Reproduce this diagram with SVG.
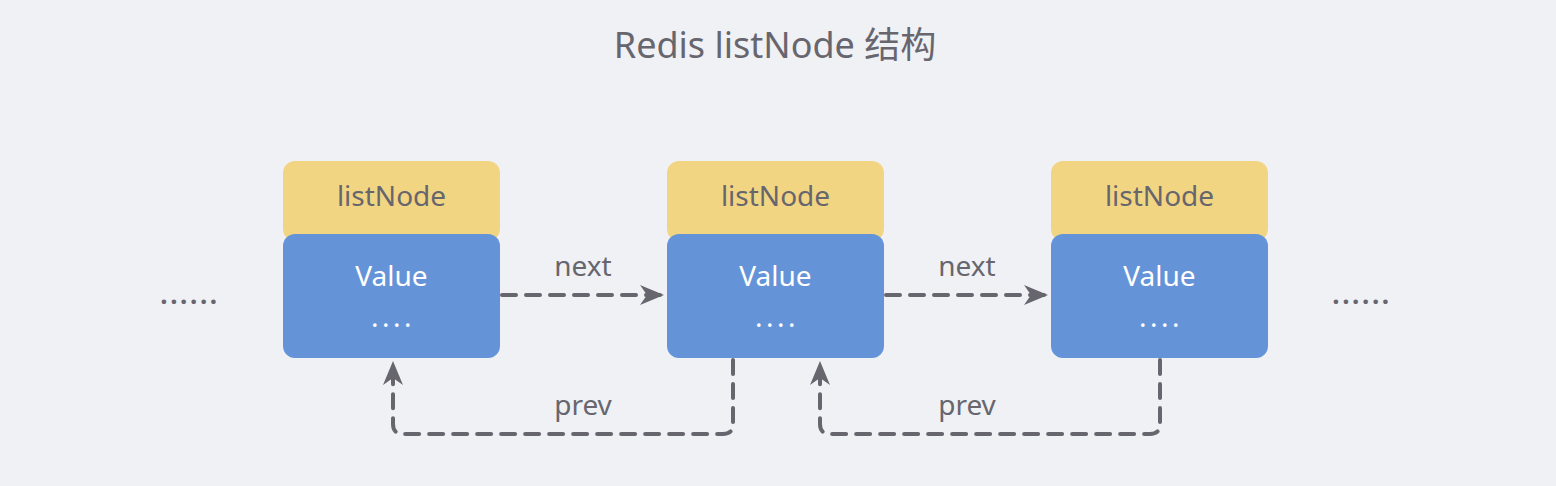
<svg xmlns="http://www.w3.org/2000/svg" width="1556" height="486" viewBox="0 0 1556 486">
<defs>
<style>
.bg{fill:#f0f1f5}
.hdr{fill:#f2d582}
.body{fill:#6593d8}
.t{font-family:"Noto Sans","Liberation Sans",sans-serif;fill:#67666e}
.w{font-family:"Noto Sans","Liberation Sans",sans-serif;fill:#ffffff}
.d{letter-spacing:3.5px}
.e{letter-spacing:2.6px;font-weight:bold}
.ln{fill:none;stroke:#67666e;stroke-width:4;stroke-dasharray:14 10;stroke-linecap:round;stroke-linejoin:round}
</style>
<marker id="ah" markerUnits="userSpaceOnUse" markerWidth="26" markerHeight="22" refX="24" refY="11" orient="auto">
<path d="M0,1 L24,11 L0,21 L7,11 Z" fill="#67666e"/>
</marker>
</defs>
<rect class="bg" x="0" y="0" width="1556" height="486"/>
<text class="t" x="775" y="58" font-size="36" text-anchor="middle">Redis listNode <tspan font-family="Noto Sans CJK SC,sans-serif">结构</tspan></text>

<g id="node1">
<rect class="hdr" x="283" y="161" width="217" height="80" rx="12"/>
<rect class="body" x="283" y="234" width="217" height="124" rx="12"/>
<text class="t" x="391.5" y="206" font-size="28" text-anchor="middle">listNode</text>
<text class="w" x="391.5" y="286" font-size="28" text-anchor="middle">Value</text>
<text class="w d" x="393" y="327" font-size="28" text-anchor="middle">....</text>
</g>
<g id="node2">
<rect class="hdr" x="667" y="161" width="217" height="80" rx="12"/>
<rect class="body" x="667" y="234" width="217" height="124" rx="12"/>
<text class="t" x="775.5" y="206" font-size="28" text-anchor="middle">listNode</text>
<text class="w" x="775.5" y="286" font-size="28" text-anchor="middle">Value</text>
<text class="w d" x="777" y="327" font-size="28" text-anchor="middle">....</text>
</g>
<g id="node3">
<rect class="hdr" x="1051" y="161" width="217" height="80" rx="12"/>
<rect class="body" x="1051" y="234" width="217" height="124" rx="12"/>
<text class="t" x="1159.5" y="206" font-size="28" text-anchor="middle">listNode</text>
<text class="w" x="1159.5" y="286" font-size="28" text-anchor="middle">Value</text>
<text class="w d" x="1161" y="327" font-size="28" text-anchor="middle">....</text>
</g>
<g id="ellipsis-left"><text class="t e" x="190" y="304" font-size="26" text-anchor="middle">......</text></g>
<g id="ellipsis-right"><text class="t e" x="1362" y="304" font-size="26" text-anchor="middle">......</text></g>

<g id="connectors">
<path class="ln" d="M502,295 H664" marker-end="url(#ah)"/>
<path class="ln" d="M886,295 H1048" marker-end="url(#ah)"/>
<path class="ln" d="M733,360 V424 Q733,434 723,434 H403 Q393,434 393,424 V361" marker-end="url(#ah)"/>
<path class="ln" d="M1160,360 V424 Q1160,434 1150,434 H830 Q820,434 820,424 V361" marker-end="url(#ah)"/>
<text class="t" x="583" y="276" font-size="28" text-anchor="middle">next</text>
<text class="t" x="967" y="276" font-size="28" text-anchor="middle">next</text>
<text class="t" x="583" y="415" font-size="28" text-anchor="middle">prev</text>
<text class="t" x="967" y="415" font-size="28" text-anchor="middle">prev</text>
</g>
</svg>
